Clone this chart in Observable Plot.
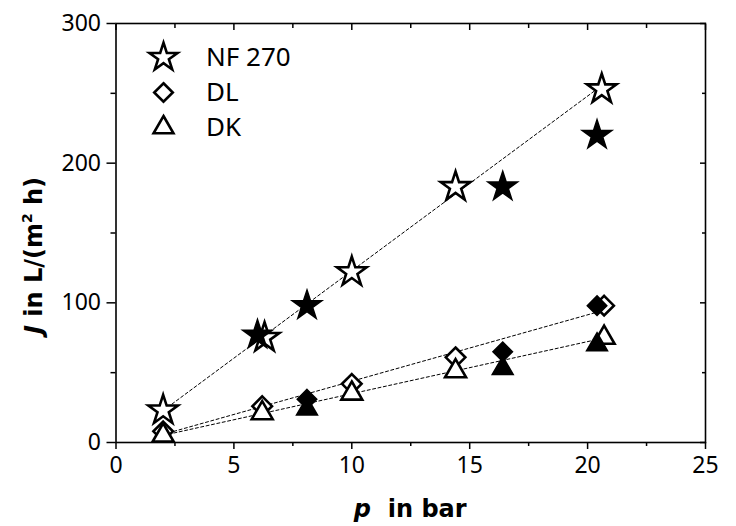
<!DOCTYPE html>
<html><head><meta charset="utf-8">
<script src="https://cdn.jsdelivr.net/npm/d3@7"></script>
<script src="https://cdn.jsdelivr.net/npm/@observablehq/plot@0.6"></script>
<style>body{margin:0;background:#fff}</style>
</head><body><div id="chart"></div>
<script>
// ---- data ----
const nfOpenP   = [2, 6.3, 10, 14.4, 20.6];
const nfOpenJ   = [23, 75, 122, 183, 253];
const nfFilledP = [6.0, 8.1, 16.4, 20.4];
const nfFilledJ = [77, 98, 183, 220];
const dlOpenP   = [2, 6.2, 10, 14.4, 20.7];
const dlOpenJ   = [8, 26, 42, 61, 98];
const dlFilledP = [8.1, 16.4, 20.4];
const dlFilledJ = [31, 65, 98];
const dkOpenP   = [2, 6.2, 10, 14.4, 20.7];
const dkOpenJ   = [5, 21, 35, 51, 75];
const dkFilledP = [8.1, 16.4, 20.4];
const dkFilledJ = [24, 53, 70];
const xTicks = [0, 5, 10, 15, 20, 25];
const xMinor = [2.5, 7.5, 12.5, 17.5, 22.5];
const yTicks = [0, 100, 200, 300];
const yMinor = [50, 150, 250];
const legendLabels  = ["NF 270", "DL", "DK"];
const legendSymbols = ["star", "diamond2", "triangle2"];
const xTitleVar = "p", xTitleRest = "\u00a0 in bar";
const yTitleVar = "J", yTitleRest = " in L/(m", yTitleSup = "2", yTitleEnd = " h)";

const FONT = "'Noto Sans', 'DejaVu Sans', sans-serif";
const TFONT = "'DejaVu Sans', sans-serif";
const symR = {star: 9.3, diamond2: 8.8, triangle2: 10};

const rows = (P, J) => P.map((p, i) => ({p, J: J[i]}));
const series = [
  {open: rows(nfOpenP, nfOpenJ), filled: rows(nfFilledP, nfFilledJ), symbol: legendSymbols[0]},
  {open: rows(dlOpenP, dlOpenJ), filled: rows(dlFilledP, dlFilledJ), symbol: legendSymbols[1]},
  {open: rows(dkOpenP, dkOpenJ), filled: rows(dkFilledP, dkFilledJ), symbol: legendSymbols[2]}
];

const marks = [];
// dashed fit lines
series.forEach(s => marks.push(Plot.linearRegressionY(s.open, {x: "p", y: "J", ci: 0, stroke: "black", strokeWidth: 1, strokeDasharray: "3,2.5"})));
// open markers
series.forEach(s => marks.push(Plot.dot(s.open, {x: "p", y: "J", symbol: s.symbol, r: symR[s.symbol], fill: "white", stroke: "black", strokeWidth: 2.6})));
// filled markers
series.forEach(s => marks.push(Plot.dot(s.filled, {x: "p", y: "J", symbol: s.symbol, r: symR[s.symbol], fill: "black", stroke: "black", strokeWidth: 1.5})));
// legend
legendLabels.forEach((lab, i) => {
  marks.push(Plot.dot([lab], {frameAnchor: "top-left", dx: 47.5, dy: 34 + 35 * i, symbol: legendSymbols[i], r: symR[legendSymbols[i]] * 0.95, fill: "white", stroke: "black", strokeWidth: 2.6}));
  marks.push(Plot.text([lab], {frameAnchor: "top-left", dx: 90, dy: 34 + 35 * i, text: d => d, textAnchor: "start", lineAnchor: "middle", fontSize: 26, fontFamily: FONT}));
});
// axes
marks.push(
  Plot.axisX(xTicks, {anchor: "bottom", tickSize: 7, tickPadding: 7, fontSize: 23, strokeWidth: 1.5, label: null}),
  Plot.axisX(xMinor, {anchor: "bottom", tickSize: 4, tickFormat: () => "", strokeWidth: 1.5, label: null}),
  Plot.axisX(xTicks, {anchor: "top", tickSize: -6, tickFormat: () => "", strokeWidth: 1.5, label: null}),
  Plot.axisX(xMinor, {anchor: "top", tickSize: -4, tickFormat: () => "", strokeWidth: 1.5, label: null}),
  Plot.axisY(yTicks, {anchor: "left", tickSize: 9, tickPadding: 6, fontSize: 23, strokeWidth: 1.5, label: null}),
  Plot.axisY(yMinor, {anchor: "left", tickSize: 5, tickFormat: () => "", strokeWidth: 1.5, label: null}),
  Plot.axisY(yTicks, {anchor: "right", tickSize: -6, tickFormat: () => "", strokeWidth: 1.5, label: null}),
  Plot.axisY(yMinor, {anchor: "right", tickSize: -4, tickFormat: () => "", strokeWidth: 1.5, label: null}),
  Plot.frame({stroke: "black", strokeWidth: 1.6})
);

const chart = Plot.plot({
  width: 736, height: 526,
  marginLeft: 115.5, marginRight: 31, marginTop: 23, marginBottom: 84,
  x: {domain: [0, 25]},
  y: {domain: [0, 300]},
  style: {fontFamily: FONT, fontSize: "23px", color: "black", background: "white"},
  marks
});
document.getElementById("chart").appendChild(chart);

// axis titles with italic variable and superscript
const svg = d3.select(chart);
const xr = chart.scale("x").range, yr = chart.scale("y").range;
const xt = svg.append("text")
  .attr("x", (xr[0] + xr[1]) / 2).attr("y", 517)
  .attr("text-anchor", "middle").attr("font-family", TFONT)
  .attr("font-size", 24).attr("font-weight", "bold").attr("fill", "black");
xt.append("tspan").attr("font-style", "italic").text(xTitleVar);
xt.append("tspan").text(xTitleRest);

const yt = svg.append("text")
  .attr("transform", `translate(42,${(yr[0] + yr[1]) / 2 + 23}) rotate(-90)`)
  .attr("text-anchor", "middle").attr("font-family", TFONT)
  .attr("font-size", 24).attr("font-weight", "bold").attr("fill", "black");
yt.append("tspan").attr("font-style", "italic").text(yTitleVar);
yt.append("tspan").text(yTitleRest);
yt.append("tspan").attr("font-size", 14).attr("dy", -10).text(yTitleSup);
yt.append("tspan").attr("dy", 10).text(yTitleEnd);
</script>
</body></html>
